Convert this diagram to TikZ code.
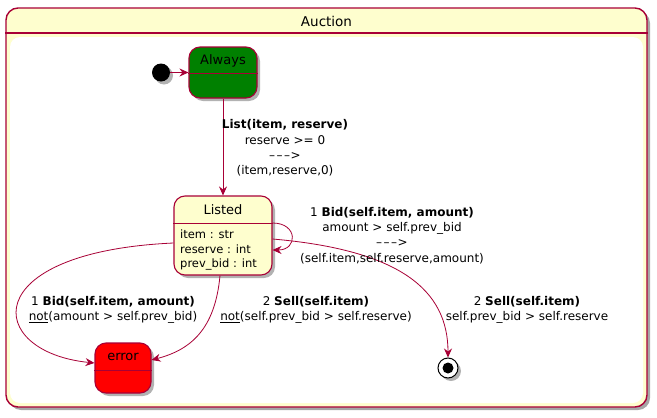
\documentclass[tikz,border=0pt]{standalone}
\usepackage{fontspec}
\setmainfont{DejaVu Sans}
\usetikzlibrary{arrows.meta,shadows,calc}
\definecolor{pborder}{HTML}{A80036}
\definecolor{pyellow}{HTML}{FEFECE}
\definecolor{pgreen}{HTML}{008000}
\definecolor{pred}{HTML}{FF0000}
\newcommand{\darrowtxt}{–\kern1.5pt–\kern1.5pt–\kern0.5pt>}
\begin{document}
\begin{tikzpicture}[x=1pt,y=-1pt,
  shad/.style={drop shadow={shadow xshift=3pt,shadow yshift=-3pt,opacity=0.3,fill=black}},
  statebox/.style={draw=pborder,line width=1.1pt,rounded corners=11pt,inner sep=0pt,shad},
  divider/.style={draw=pborder,line width=0.8pt},
  statetext/.style={font=\fontsize{13}{15}\selectfont,inner sep=0pt},
  attr/.style={font=\fontsize{11.5}{14.5}\selectfont,align=left,inner sep=0pt},
  lbl/.style={font=\fontsize{12}{15.3}\selectfont,align=center,inner sep=0pt},
  edge/.style={draw=pborder,line width=0.8pt,-{Stealth[length=9pt,width=8pt,inset=3pt]}},
]
\useasboundingbox (0,0) rectangle (657,418);
% frame
\node[draw=pborder,line width=1.4pt,fill=pyellow,rounded corners=12pt,minimum width=641pt,minimum height=399pt,inner sep=0pt,drop shadow={shadow xshift=3pt,shadow yshift=-3pt,opacity=0.35,fill=black}] (auction) at (326.5,207.5) {};
\fill[white,rounded corners=10pt] (10,37) rectangle (643,403);
\draw[pborder,line width=1.2pt] (auction.west |- 0,33) -- (auction.east |- 0,33);
\node[font=\fontsize{13.5}{15}\selectfont,inner sep=0pt] (auctionT) at (326.5,21) {Auction};

% states
\node[statebox,fill=pgreen,minimum width=68pt,minimum height=51pt] (always) at (223,72.5) {};
\draw[divider] (always.west |- 0,73) -- (always.east |- 0,73);
\node[statetext] (alwaysT) at (223,61) {Always};

\node[statebox,fill=pyellow,minimum width=98pt,minimum height=79pt] (listed) at (223,235.5) {};
\draw[divider] (listed.west |- 0,223) -- (listed.east |- 0,223);
\node[statetext] (listedT) at (223,210) {Listed};
\node[attr,anchor=west] (listedA) at (180,250) {item : str\\reserve : int\\prev\_bid : int};

\node[statebox,fill=pred,minimum width=56pt,minimum height=50pt] (error) at (123,368) {};
\draw[divider] (error.west |- 0,370) -- (error.east |- 0,370);
\node[statetext] (errorT) at (123,357) {error};

\node[circle,fill=black,minimum size=18pt,inner sep=0pt,shad] (init) at (161,72.5) {};
\node[circle,draw=black,fill=white,line width=1pt,minimum size=20pt,inner sep=0pt,shad] (final) at (448,368) {};
\node[circle,fill=black,minimum size=11pt,inner sep=0pt] (finalin) at (final) {};

% edges
\draw[edge] (init) -- (always);
\draw[edge] (always) -- (listed);
\draw[edge] (listed.east |- 0,223) .. controls (298,223) and (298,250) .. (listed.east |- 0,250);
\draw[edge] (listed.east |- 0,239) .. controls (400,250) and (448,290) .. (final);
\draw[edge] (listed.west |- 0,243) .. controls (-25,252) and (-15,352) .. (error.west |- 0,363);
\draw[edge] (listed.south -| 220,0) .. controls (215,330) and (190,350) .. (error.east |- 0,360);

% labels
\node[lbl] (l1) at (285,148) {\textbf{List(item, reserve)}\\reserve >= 0\\\darrowtxt\\(item,reserve,0)};
\node[lbl] (l2) at (392,235.5) {1 \textbf{Bid(self.item, amount)}\\amount > self.prev\_bid\\\darrowtxt\\(self.item,self.reserve,amount)};
\node[lbl] (l3) at (113,310) {1 \textbf{Bid(self.item, amount)}\\\underline{not}(amount > self.prev\_bid)};
\node[lbl] (l4) at (316,310) {2 \textbf{Sell(self.item)}\\\underline{not}(self.prev\_bid > self.reserve)};
\node[lbl] (l5) at (527,310) {2 \textbf{Sell(self.item)}\\self.prev\_bid > self.reserve};
\end{tikzpicture}
\end{document}
